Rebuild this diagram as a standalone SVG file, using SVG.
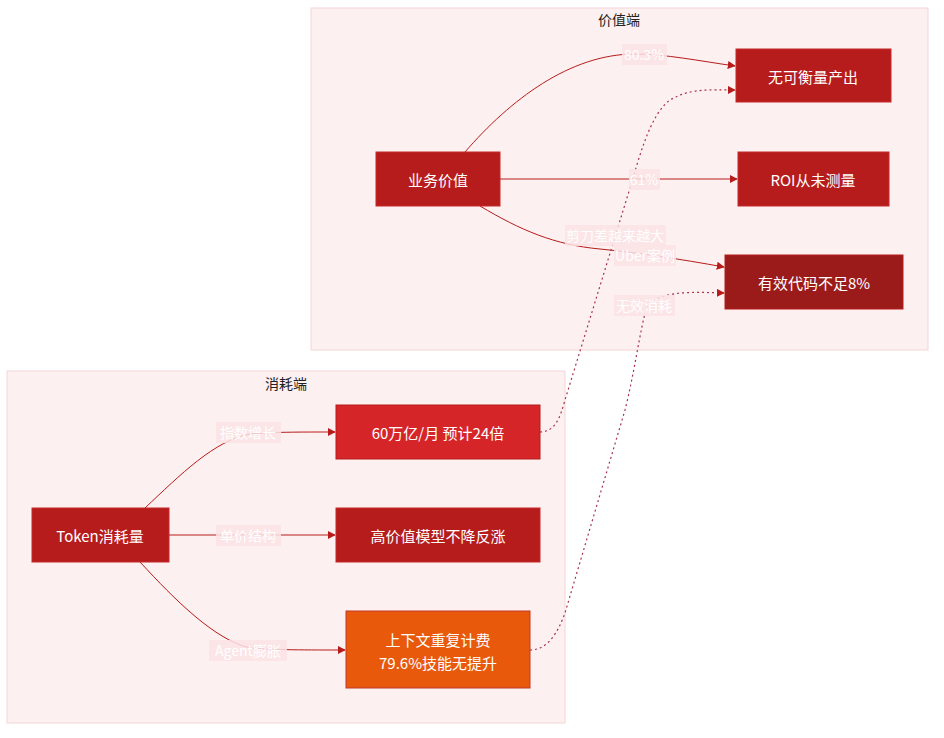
<svg xmlns="http://www.w3.org/2000/svg" width="944" height="738" viewBox="0 0 944 738">
<style>
.cl{fill:#fdf0f0;stroke:#f3d6d8;stroke-width:1}
.ct{font-family:"Noto Sans CJK SC","Liberation Sans",sans-serif;font-size:14px;fill:#222;text-anchor:middle}
.nt{font-family:"Noto Sans CJK SC","Liberation Sans",sans-serif;font-size:15px;fill:#fff;text-anchor:middle;dominant-baseline:central}
.e{fill:none;stroke:#b71c1c;stroke-width:1}
.d{fill:none;stroke:#a8324a;stroke-width:1.2;stroke-dasharray:2 3}
.lb{fill:#fbe3e5;opacity:0.85}
.lt{font-family:"Noto Sans CJK SC","Liberation Sans",sans-serif;font-size:14px;fill:#fff;text-anchor:middle;dominant-baseline:central}
</style>
<defs>
<marker id="ah" viewBox="0 0 10 10" refX="9" refY="5" markerWidth="8" markerHeight="8" orient="auto" markerUnits="userSpaceOnUse">
<path d="M0,0 L10,5 L0,10 z" fill="#b71c1c"/>
</marker>
</defs>
<rect width="944" height="738" fill="#fff"/>
<g id="cluster-value">
<rect class="cl" x="311" y="8" width="617" height="342"/>
<text class="ct" x="619" y="25">价值端</text>
</g>
<g id="cluster-consume">
<rect class="cl" x="7" y="371" width="558" height="352"/>
<text class="ct" x="286" y="389">消耗端</text>
</g>
<g id="connectors">
<path class="e" d="M465,152 C510,100 570,54 635,54 C665,54 700,61 735,66" marker-end="url(#ah)"/>
<path class="e" d="M500,179 L737,179" marker-end="url(#ah)"/>
<path class="e" d="M480,206 C520,230 555,245 600,249 C640,253 680,259 724,267" marker-end="url(#ah)"/>
<path class="d" d="M540,432 C555,432 560,418 565,400 L615,237 L630,188 C640,155 650,115 670,100 C690,88 710,90 735,90" marker-end="url(#ah)"/>
<path class="d" d="M530,650 C548,650 558,632 565,613 L625,410 C635,370 640,330 646,310 C655,290 690,292 724,293" marker-end="url(#ah)"/>
<path class="e" d="M145,508 C180,475 215,440 250,434 C270,432 300,432 335,432" marker-end="url(#ah)"/>
<path class="e" d="M169,535 L335,535" marker-end="url(#ah)"/>
<path class="e" d="M140,562 C175,600 215,640 250,648 C270,650 310,650 345,650" marker-end="url(#ah)"/>
</g>
<g id="edge-labels">
<rect class="lb" x="622" y="44" width="45" height="21"/><text class="lt" x="644" y="54">80.3%</text>
<rect class="lb" x="629" y="169" width="31" height="21"/><text class="lt" x="644" y="179">61%</text>
<rect class="lb" x="565" y="225" width="101" height="21"/><text class="lt" x="615" y="235">剪刀差越来越大</text>
<rect class="lb" x="614" y="245" width="62" height="21"/><text class="lt" x="645" y="255">Uber案例</text>
<rect class="lb" x="614" y="295" width="61" height="21"/><text class="lt" x="644" y="305">无效消耗</text>
<rect class="lb" x="216" y="422" width="65" height="21"/><text class="lt" x="248" y="432">指数增长</text>
<rect class="lb" x="216" y="525" width="65" height="21"/><text class="lt" x="248" y="535">单价结构</text>
<rect class="lb" x="209" y="640" width="78" height="21"/><text class="lt" x="248" y="650">Agent膨胀</text>
</g>
<g id="n-business">
<rect x="376" y="152" width="124" height="54" fill="#b71c1c" stroke="#c62828"/>
<text class="nt" x="438" y="179">业务价值</text>
</g>
<g id="n-output">
<rect x="736" y="49" width="155" height="53" fill="#b71c1c" stroke="#c62828"/>
<text class="nt" x="813" y="76">无可衡量产出</text>
</g>
<g id="n-roi">
<rect x="738" y="152" width="151" height="54" fill="#b71c1c" stroke="#c62828"/>
<text class="nt" x="813" y="179">ROI从未测量</text>
</g>
<g id="n-code">
<rect x="725" y="255" width="178" height="54" fill="#9b1b1b" stroke="#b71c1c"/>
<text class="nt" x="814" y="282">有效代码不足8%</text>
</g>
<g id="n-token">
<rect x="32" y="508" width="137" height="54" fill="#b71c1c" stroke="#c62828"/>
<text class="nt" x="100" y="535">Token消耗量</text>
</g>
<g id="n-volume">
<rect x="336" y="405" width="204" height="54" fill="#d62528" stroke="#b71c1c"/>
<text class="nt" x="438" y="432">60万亿/月 预计24倍</text>
</g>
<g id="n-price">
<rect x="336" y="508" width="204" height="54" fill="#b71c1c" stroke="#c62828"/>
<text class="nt" x="438" y="535">高价值模型不降反涨</text>
</g>
<g id="n-context">
<rect x="346" y="611" width="184" height="77" fill="#e8590c" stroke="#c0392b"/>
<text class="nt" x="438" y="639">上下文重复计费</text>
<text class="nt" x="438" y="662">79.6%技能无提升</text>
</g>
</svg>
